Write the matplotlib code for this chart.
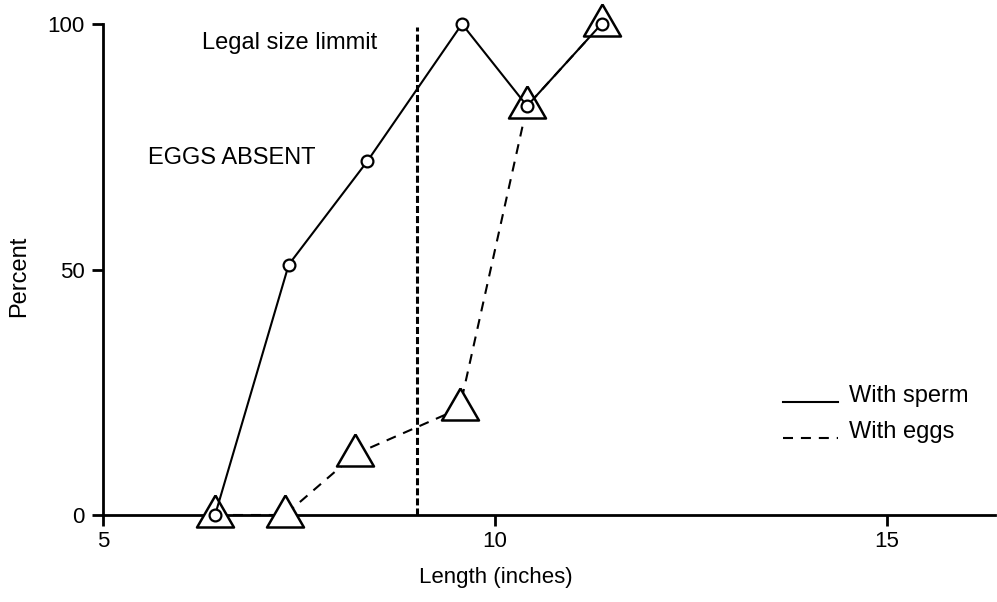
import matplotlib.pyplot as plt
from matplotlib.lines import Line2D

plt.rcParams['font.family'] = ['Liberation Sans', 'DejaVu Sans']

# Percent mature by carapace length
sperm_length = [6.43, 7.37, 8.37, 9.58, 10.41, 11.36]
sperm_pct = [0, 51, 72, 100, 83.3, 100]

eggs_length = [6.43, 7.32, 8.22, 9.55, 10.41, 11.36]
eggs_pct = [0, 0, 12.4, 21.7, 83.3, 100]

legal_size = 9.0
x_ticks = [5, 10, 15]
y_ticks = [0, 50, 100]

W, H = 997, 602
fig = plt.figure(figsize=(W / 100, H / 100), dpi=100)
ax = fig.add_axes([103 / W, 87 / H, (995 - 103) / W, (515 - 24) / H])

# open triangle, sitting a little above its point
tri = [(0, 1), (-0.925, -0.6), (0.925, -0.6), (0, 1)]

ax.plot(eggs_length, eggs_pct, color='black', lw=1.5, dashes=(4.8, 3.8),
        marker=tri, ms=28.8, mfc='white', mec='black', mew=1.8,
        clip_on=False, zorder=3)
ax.plot(sperm_length, sperm_pct, color='black', lw=1.5,
        marker='o', ms=8.5, mfc='white', mec='black', mew=1.6,
        clip_on=False, zorder=3.1)

# legal size limit
ax.vlines(legal_size, 0, 99.3, colors='black', lw=2.2, linestyles=(0, (2.3, 1.0)), zorder=2)
ax.text(6.26, 94.9, 'Legal size limmit', fontsize=17, va='baseline', ha='left')
ax.text(5.57, 71.4, 'EGGS ABSENT', fontsize=17, va='baseline', ha='left')

# hand-made legend
ax.add_line(Line2D([0.762, 0.824], [0.230, 0.230], transform=ax.transAxes,
                   color='black', lw=1.5, clip_on=False))
ax.add_line(Line2D([0.762, 0.824], [0.157, 0.157], transform=ax.transAxes,
                   color='black', lw=1.5, dashes=(4.8, 3.8), clip_on=False))
ax.text(0.836, 0.230, 'With sperm', transform=ax.transAxes, fontsize=17, va='baseline')
ax.text(0.836, 0.157, 'With eggs', transform=ax.transAxes, fontsize=17, va='baseline')

ax.set_xlim(5, 16.38)
ax.set_ylim(0, 100)
ax.set_xticks(x_ticks)
ax.set_yticks(y_ticks)
ax.tick_params(axis='both', direction='out', length=8, width=2, labelsize=16,
               colors='black')
ax.tick_params(axis='x', pad=3.5)
ax.tick_params(axis='y', pad=5)

for side in ['top', 'right']:
    ax.spines[side].set_visible(False)
for side in ['left', 'bottom']:
    ax.spines[side].set_linewidth(2)

ax.set_xlabel('Length (inches)', fontsize=16)
ax.xaxis.set_label_coords(0.44, -0.105)
ax.set_ylabel('Percent', fontsize=17)
ax.yaxis.set_label_coords(-0.082, 0.487)

plt.savefig('out.png', dpi=100)
